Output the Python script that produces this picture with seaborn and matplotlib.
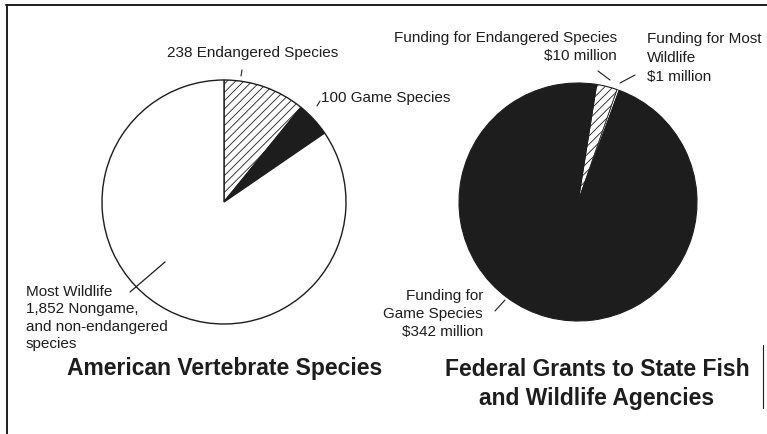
import matplotlib
matplotlib.use("Agg")
import matplotlib.pyplot as plt
import seaborn as sns

# Left pie: American vertebrate species (counts)
species_labels = ["238 Endangered Species", "100 Game Species",
                  "Most Wildlife\n1,852 Nongame,\nand non-endangered\nspecies"]
species_counts = [238, 100, 1852]

# Right pie: federal grants (millions of dollars)
funding_labels = ["Funding for Endangered Species\n$10 million",
                  "Funding for Most\nWildlife\n$1 million",
                  "Funding for\nGame Species\n$342 million"]
funding_millions = [10, 1, 342]

left_title = "American Vertebrate Species"
right_title = "Federal Grants to State Fish\nand Wildlife Agencies"

W, H = 767, 434
INK = "#1d1d1d"

sns.set_theme(style="white")
plt.rcParams["font.family"] = ["Liberation Sans", "DejaVu Sans"]
plt.rcParams["hatch.linewidth"] = 0.6
plt.rcParams["hatch.color"] = "#7a7a7a"


def py(y):
    # pixel row (from top) -> data y
    return H - y


fig = plt.figure(figsize=(W / 100, H / 100), dpi=100)
fig.patch.set_facecolor("white")
ax = fig.add_axes([0, 0, 1, 1])

# left pie
wedges, _ = ax.pie(species_counts, center=(224, py(202)), radius=122,
                   startangle=90, counterclock=False,
                   colors=["white", INK, "white"],
                   wedgeprops=dict(edgecolor=INK, linewidth=1.0))
wedges[0].set_hatch("////")

# right pie
wedges2, _ = ax.pie(funding_millions, center=(578, py(202)), radius=119,
                    startangle=81, counterclock=False,
                    colors=["white", "white", INK],
                    wedgeprops=dict(edgecolor=INK, linewidth=0.8))
wedges2[0].set_hatch("////")
wedges2[1].set_linewidth(0.5)

# pie() resets the limits, so fix the pixel-like frame afterwards
ax.set_xlim(0, W)
ax.set_ylim(0, H)
ax.set_aspect("auto")
ax.axis("off")

small = 11
big = 16.5

# left labels
ax.text(253, py(53), species_labels[0], ha="center", va="center", fontsize=small, color=INK)
ax.plot([242, 241], [py(70), py(76)], color=INK, lw=0.8)
ax.text(321, py(98), species_labels[1], ha="left", va="center", fontsize=small, color=INK)
ax.plot([317, 320], [py(106), py(101)], color=INK, lw=0.8)
ax.text(26, py(318), species_labels[2], ha="left", va="center", fontsize=small,
        color=INK, linespacing=1.3)
ax.plot([130, 165], [py(292), py(262)], color=INK, lw=0.9)
ax.text(225, py(368), left_title, ha="center", va="center", fontsize=big,
        fontweight="bold", color=INK)

# right labels
ax.text(617, py(47), funding_labels[0], ha="right", va="center", fontsize=small,
        color=INK, multialignment="right", linespacing=1.45)
ax.plot([598, 610], [py(71), py(80)], color=INK, lw=0.8)
ax.text(647, py(58), funding_labels[1], ha="left", va="center", fontsize=small,
        color=INK, linespacing=1.5)
ax.plot([620, 635], [py(83), py(75)], color=INK, lw=0.8)
ax.text(483, py(314), funding_labels[2], ha="right", va="center", fontsize=small,
        color=INK, multialignment="right", linespacing=1.35)
ax.plot([495, 505], [py(311), py(300)], color=INK, lw=0.8)
ax.text(597, py(384), right_title, ha="center", va="center", fontsize=big,
        fontweight="bold", color=INK, linespacing=1.3)

# frame fragments from the scanned box
ax.plot([6, W], [py(5), py(5)], color=INK, lw=1.4)
ax.plot([7, 7], [py(5), 0], color=INK, lw=1.4)
ax.plot([763, 763], [py(345), py(408)], color=INK, lw=0.8)

fig.savefig("out.png", dpi=100)
plt.close(fig)
